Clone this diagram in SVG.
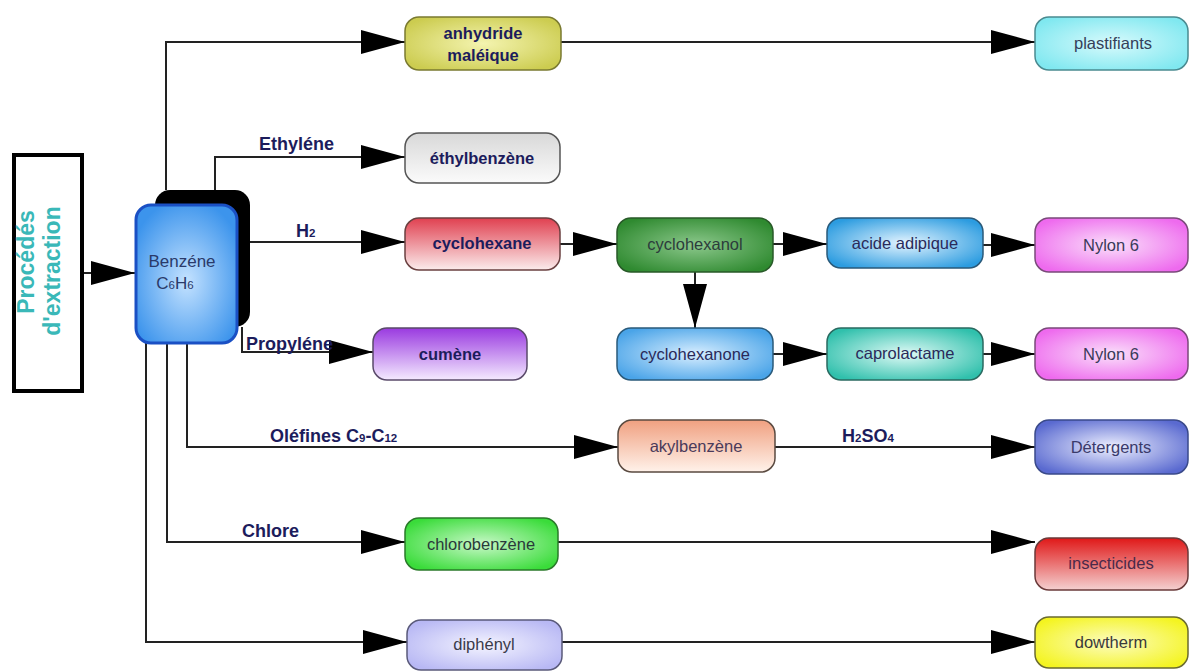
<svg xmlns="http://www.w3.org/2000/svg" width="1190" height="671" viewBox="0 0 1190 671">
<style>
.ln{fill:none;stroke:#222;stroke-width:2;marker-end:url(#ah)}
.nd{stroke-width:1.5}
.t{font-family:"Liberation Sans",Arial,sans-serif;font-size:16.5px;fill:#2a2a5a;text-anchor:middle}
.b{font-weight:bold;fill:#1c1c5c;font-size:16.5px}
.lb{font-family:"Liberation Sans",Arial,sans-serif;font-size:18px;font-weight:bold;fill:#1c1c5c}
.s{font-size:11.5px}
</style>
<defs>
<marker id="ah" markerUnits="userSpaceOnUse" markerWidth="44" markerHeight="24" refX="44" refY="12" orient="auto">
<path d="M0,0 L44,12 L0,24 Z" fill="#000"/>
</marker>
<radialGradient id="gYel" cx="50%" cy="50%" r="60%"><stop offset="0" stop-color="#f4f4b0"/><stop offset="1" stop-color="#cccc50"/></radialGradient>
<radialGradient id="gCyan" cx="50%" cy="50%" r="60%"><stop offset="0" stop-color="#d8fafc"/><stop offset="1" stop-color="#80e8f0"/></radialGradient>
<linearGradient id="gGray" x1="0" y1="0" x2="0" y2="1"><stop offset="0" stop-color="#d8d8d8"/><stop offset="1" stop-color="#fbfbfb"/></linearGradient>
<linearGradient id="gRed" x1="0" y1="0" x2="0" y2="1"><stop offset="0" stop-color="#e04050"/><stop offset="1" stop-color="#fbecec"/></linearGradient>
<linearGradient id="gPur" x1="0" y1="0" x2="0" y2="1"><stop offset="0" stop-color="#9a3ae0"/><stop offset="1" stop-color="#f4eaff"/></linearGradient>
<radialGradient id="gGrn" cx="50%" cy="50%" r="60%"><stop offset="0" stop-color="#8cc88c"/><stop offset="1" stop-color="#2f8a30"/></radialGradient>
<radialGradient id="gBlue" cx="50%" cy="50%" r="60%"><stop offset="0" stop-color="#e4f4ff"/><stop offset="1" stop-color="#2c9ce0"/></radialGradient>
<radialGradient id="gBlue2" cx="50%" cy="50%" r="60%"><stop offset="0" stop-color="#d8eeff"/><stop offset="1" stop-color="#4aa4e8"/></radialGradient>
<radialGradient id="gTeal" cx="50%" cy="50%" r="60%"><stop offset="0" stop-color="#e0faf6"/><stop offset="1" stop-color="#30c0ac"/></radialGradient>
<radialGradient id="gPink" cx="50%" cy="50%" r="60%"><stop offset="0" stop-color="#fae0fa"/><stop offset="1" stop-color="#ee6aee"/></radialGradient>
<linearGradient id="gSal" x1="0" y1="0" x2="0" y2="1"><stop offset="0" stop-color="#f0a080"/><stop offset="1" stop-color="#fff2ea"/></linearGradient>
<radialGradient id="gDet" cx="50%" cy="50%" r="60%"><stop offset="0" stop-color="#eef0ff"/><stop offset="1" stop-color="#5a6ad0"/></radialGradient>
<linearGradient id="gIns" x1="0" y1="0" x2="0" y2="1"><stop offset="0" stop-color="#e01818"/><stop offset="1" stop-color="#f4d0d0"/></linearGradient>
<radialGradient id="gCl" cx="50%" cy="50%" r="60%"><stop offset="0" stop-color="#c8f8c8"/><stop offset="1" stop-color="#3adc3a"/></radialGradient>
<radialGradient id="gLav" cx="50%" cy="50%" r="60%"><stop offset="0" stop-color="#f4f4ff"/><stop offset="1" stop-color="#b8b8f4"/></radialGradient>
<radialGradient id="gDow" cx="50%" cy="50%" r="60%"><stop offset="0" stop-color="#fcfcc0"/><stop offset="1" stop-color="#f4f420"/></radialGradient>
<radialGradient id="gBenz" cx="50%" cy="55%" r="60%"><stop offset="0" stop-color="#c4e2ff"/><stop offset="1" stop-color="#3c94ec"/></radialGradient>
</defs>
<rect width="1190" height="671" fill="#fff"/>

<g id="connectors">
<path class="ln" d="M83,273 L135,273"/>
<path class="ln" d="M166,190 L166,42 L405,42"/>
<path class="ln" d="M215,190 L215,157 L405,157"/>
<path class="ln" d="M250,242 L405,242"/>
<path class="ln" d="M242,327 L242,352 L373,352"/>
<path class="ln" d="M187,343 L187,447 L618,447"/>
<path class="ln" d="M167,343 L167,542 L405,542"/>
<path class="ln" d="M146,343 L146,642 L407,642"/>
<path class="ln" d="M560,42 L1035,42"/>
<path class="ln" d="M560,244 L617,244"/>
<path class="ln" d="M773,244 L827,244"/>
<path class="ln" d="M695,272 L695,328"/>
<path class="ln" d="M983,245 L1035,245"/>
<path class="ln" d="M773,354 L827,354"/>
<path class="ln" d="M983,354 L1035,354"/>
<path class="ln" d="M775,447 L1035,447"/>
<path class="ln" d="M558,542 L1035,542"/>
<path class="ln" d="M562,642 L1035,642"/>
<text class="lb" x="259" y="150">Ethyléne</text>
<text class="lb" x="296" y="237">H<tspan class="s">2</tspan></text>
<text class="lb" x="246" y="350">Propyléne</text>
<text class="lb" x="270" y="442">Oléfines C<tspan class="s">9</tspan>-C<tspan class="s">12</tspan></text>
<text class="lb" x="242" y="537">Chlore</text>
<text class="lb" x="842" y="442">H<tspan class="s">2</tspan>SO<tspan class="s">4</tspan></text>
</g>

<g id="procedes">
<rect x="14" y="155" width="68" height="236" fill="#fff" stroke="#000" stroke-width="4"/>
<text transform="translate(34,262) rotate(-90)" font-family="Liberation Sans,Arial,sans-serif" font-size="23" font-weight="bold" fill="#3ab8b8" text-anchor="middle">Procédés</text>
<text transform="translate(60,271) rotate(-90)" font-family="Liberation Sans,Arial,sans-serif" font-size="23" font-weight="bold" fill="#3ab8b8" text-anchor="middle">d'extraction</text>
</g>

<g id="benzene">
<rect x="155" y="190" width="95" height="137" rx="15" fill="#000"/>
<rect x="136" y="205" width="101" height="138" rx="15" fill="url(#gBenz)" stroke="#1a50c4" stroke-width="3"/>
<text class="t" x="182" y="267" style="fill:#2a3a6a;font-size:17px">Benzéne</text>
<text class="t" x="175" y="289" style="fill:#2a3a6a;font-size:17px">C<tspan class="s">6</tspan>H<tspan class="s">6</tspan></text>
</g>

<g id="anhydride">
<rect class="nd" x="405" y="17" width="156" height="53" rx="14" fill="url(#gYel)" stroke="#7a7a30"/>
<text class="t b" x="483" y="39">anhydride</text>
<text class="t b" x="483" y="61">maléique</text>
</g>
<g id="plastifiants">
<rect class="nd" x="1035" y="17" width="153" height="53" rx="14" fill="url(#gCyan)" stroke="#4a8a90"/>
<text class="t" x="1113" y="49" style="fill:#34405a">plastifiants</text>
</g>
<g id="ethylbenzene">
<rect class="nd" x="405" y="133" width="155" height="50" rx="14" fill="url(#gGray)" stroke="#555"/>
<text class="t b" x="482" y="164">éthylbenzène</text>
</g>
<g id="cyclohexane">
<rect class="nd" x="405" y="218" width="155" height="52" rx="14" fill="url(#gRed)" stroke="#6a4040"/>
<text class="t b" x="482" y="249">cyclohexane</text>
</g>
<g id="cumene">
<rect class="nd" x="373" y="328" width="154" height="52" rx="14" fill="url(#gPur)" stroke="#5a4a6a"/>
<text class="t b" x="450" y="360">cumène</text>
</g>
<g id="cyclohexanol">
<rect class="nd" x="617" y="218" width="156" height="54" rx="14" fill="url(#gGrn)" stroke="#285a28"/>
<text class="t" x="695" y="250" style="fill:#2c3c3c">cyclohexanol</text>
</g>
<g id="acide-adipique">
<rect class="nd" x="827" y="218" width="156" height="50" rx="14" fill="url(#gBlue)" stroke="#2a5a7a"/>
<text class="t" x="905" y="249">acide adipique</text>
</g>
<g id="nylon6-a">
<rect class="nd" x="1035" y="218" width="153" height="54" rx="14" fill="url(#gPink)" stroke="#7a4a7a"/>
<text class="t" x="1111" y="251" style="fill:#3a3a5a">Nylon 6</text>
</g>
<g id="cyclohexanone">
<rect class="nd" x="617" y="328" width="156" height="52" rx="14" fill="url(#gBlue2)" stroke="#2a5a7a"/>
<text class="t" x="695" y="360">cyclohexanone</text>
</g>
<g id="caprolactame">
<rect class="nd" x="827" y="328" width="156" height="52" rx="14" fill="url(#gTeal)" stroke="#2a6a60"/>
<text class="t" x="905" y="359">caprolactame</text>
</g>
<g id="nylon6-b">
<rect class="nd" x="1035" y="328" width="153" height="52" rx="14" fill="url(#gPink)" stroke="#7a4a7a"/>
<text class="t" x="1111" y="360" style="fill:#3a3a5a">Nylon 6</text>
</g>
<g id="akylbenzene">
<rect class="nd" x="618" y="420" width="157" height="52" rx="14" fill="url(#gSal)" stroke="#5a4a40"/>
<text class="t" x="696" y="452" style="fill:#4a3a5a">akylbenzène</text>
</g>
<g id="detergents">
<rect class="nd" x="1035" y="420" width="153" height="54" rx="14" fill="url(#gDet)" stroke="#3a4a8a"/>
<text class="t" x="1111" y="453" style="fill:#3a3a6a">Détergents</text>
</g>
<g id="chlorobenzene">
<rect class="nd" x="405" y="518" width="153" height="52" rx="14" fill="url(#gCl)" stroke="#2a7a2a"/>
<text class="t" x="481" y="550" style="fill:#2a3a3a">chlorobenzène</text>
</g>
<g id="insecticides">
<rect class="nd" x="1035" y="538" width="153" height="52" rx="14" fill="url(#gIns)" stroke="#6a3a3a"/>
<text class="t" x="1111" y="569" style="fill:#4a2a4a">insecticides</text>
</g>
<g id="diphenyl">
<rect class="nd" x="407" y="620" width="155" height="50" rx="14" fill="url(#gLav)" stroke="#5a5a7a"/>
<text class="t" x="484" y="650" style="fill:#3a3a4a">diphényl</text>
</g>
<g id="dowtherm">
<rect class="nd" x="1035" y="617" width="153" height="51" rx="14" fill="url(#gDow)" stroke="#6a6a30"/>
<text class="t" x="1111" y="648" style="fill:#3a3a3a">dowtherm</text>
</g>
</svg>
